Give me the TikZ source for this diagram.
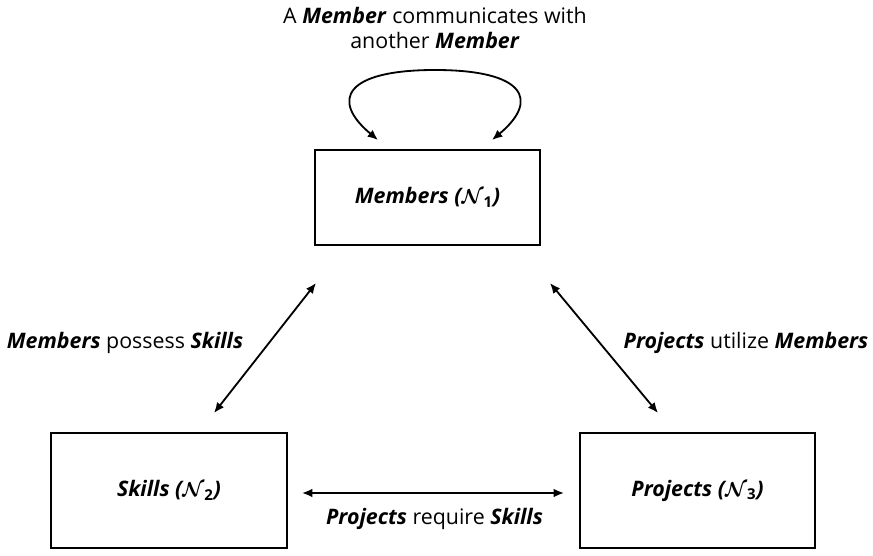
\documentclass[tikz,border=0pt]{standalone}
\usepackage{amsmath}
\usepackage{amssymb}
\usepackage{bm}
\usepackage{fontspec}
\setmainfont{Open Sans}
\usepackage{tikz}
\usetikzlibrary{arrows.meta}

\newcommand{\bi}[1]{\textbf{\textit{#1}}}

\begin{document}
\begin{tikzpicture}[x=0.025cm,y=-0.025cm,>={Latex[length=2.6mm,width=2.2mm]},line width=1.3pt]

      \useasboundingbox (0,0) rectangle (873,556);
      \fontsize{15.2}{17.8}\selectfont

      % the three entity sets
      \node[draw=black,minimum width=5.625cm,minimum height=2.375cm,inner sep=3pt] (a) at (427.5,197.5){\bi{Members ($\bm{\mathcal{N}}_{\mathbf{1}}$)}};
      \node[draw=black,minimum width=5.9cm,minimum height=2.875cm,inner sep=3pt] (b) at (169,490.5){\bi{Skills ($\bm{\mathcal{N}}_{\mathbf{2}}$)}};
      \node[draw=black,minimum width=5.875cm,minimum height=2.875cm,inner sep=3pt] (c) at (697.5,490.5){\bi{Projects ($\bm{\mathcal{N}}_{\mathbf{3}}$)}};

      \node[align=center,inner sep=0pt] (t) at (435,28){A \bi{Member} communicates with\\another \bi{Member}};
      \node[inner sep=0pt] (m) at (125,343){\bi{Members} possess \bi{Skills}};
      \node[inner sep=0pt] (u) at (746,343){\bi{Projects} utilize \bi{Members}};
      \node[inner sep=0pt] (r) at (434.5,519){\bi{Projects} require \bi{Skills}};

      % arrow ends
      \coordinate (l1) at (378,140);
      \coordinate (l2) at (492,140);
      \coordinate (p1) at (316,283);
      \coordinate (p2) at (214,413);
      \coordinate (q1) at (550,283);
      \coordinate (q2) at (658,413);
      \coordinate (s1) at (302,493);
      \coordinate (s2) at (564,493);

      \draw[<->] (l1) .. controls (330,100) and (345,70) .. (435,70) .. controls (525,70) and (540,100) .. (l2);
      \draw[<->] (p1) -- (p2);
      \draw[<->] (q1) -- (q2);
      \draw[<->] (s1) -- (s2);
    \end{tikzpicture}
\end{document}
